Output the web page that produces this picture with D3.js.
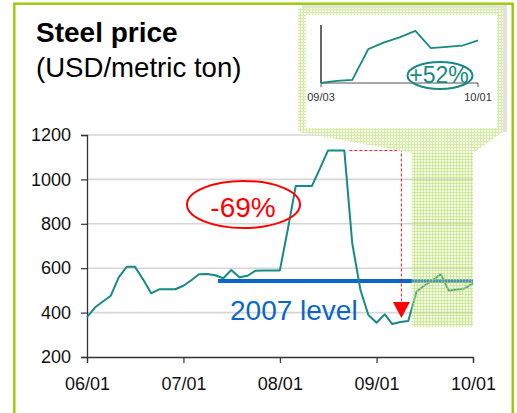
<!DOCTYPE html>
<html><head><meta charset="utf-8">
<script src="https://cdn.jsdelivr.net/npm/d3@7"></script>
<style>
html,body{margin:0;padding:0;background:#fff;}
svg{display:block;font-family:"Liberation Sans",Arial,sans-serif;}
</style></head>
<body><svg id="c" width="517" height="413"></svg>
<script>
// ---- data ----
const months = [
 "2006-01","2006-02","2006-03","2006-04","2006-05","2006-06","2006-07","2006-08","2006-09","2006-10","2006-11","2006-12",
 "2007-01","2007-02","2007-03","2007-04","2007-05","2007-06","2007-07","2007-08","2007-09","2007-10","2007-11","2007-12",
 "2008-01","2008-02","2008-03","2008-04","2008-05","2008-06","2008-07","2008-08","2008-09","2008-10","2008-11","2008-12",
 "2009-01","2009-02","2009-03","2009-04","2009-05","2009-06","2009-07","2009-08","2009-09","2009-10","2009-11","2009-12",
 "2010-01"];
const prices = [
 380,424,449,476,559,607,607,550,487,505,505,505,
 521,547,573,574,568,555,592,559,566,589,590,590,
 590,781,970,970,970,1050,1130,1130,1130,712,502,389,
 354,392,349,358,362,494,522,545,573,499,504,509,
 532];
const yTicks = [200,400,600,800,1000,1200];
const xTicks = ["2006-01","2007-01","2008-01","2009-01","2010-01"];
const insetStart = "2009-03";
const insetTicks = ["2009-03","2010-01"];
const level2007 = 542;
const levelStart = "2007-05-12";
const peakValue = 1130;
const peakDate = "2008-09-20";
const dropDate = "2009-04-05";
const arrowTop = 448, arrowTip = 376;
const dropLabel = "-69%";
const riseLabel = "+52%";
const levelLabel = "2007 level";
const highlightStart = "2009-05-14";
const highlightTop = 1119, highlightBottom = 335;

// ---- setup ----
const svg = d3.select("#c");
const parse = s => s.length===7 ? d3.timeParse("%Y-%m")(s) : d3.timeParse("%Y-%m-%d")(s);
const data = months.map((m,i)=>({d:parse(m), v:prices[i]}));
const x = d3.scaleTime().domain([parse("2006-01"), parse("2010-01")]).range([87,473]);
const y = d3.scaleLinear().domain([200,1200]).range([357,135]);
const teal = "#168a84", blue = "#0a66cc", red = "#ff0000";

// patterns
const defs = svg.append("defs");
const p1 = defs.append("pattern").attr("id","hs").attr("width",3).attr("height",3).attr("patternUnits","userSpaceOnUse");
p1.append("rect").attr("width",3).attr("height",3).attr("fill","#f3f9e2");
p1.append("rect").attr("width",3).attr("height",1).attr("fill","#d6ebab");
p1.append("rect").attr("width",1).attr("height",3).attr("fill","#d6ebab");
const p2 = defs.append("pattern").attr("id","ht").attr("width",3).attr("height",3).attr("patternUnits","userSpaceOnUse");
p2.append("rect").attr("width",3).attr("height",3).attr("fill","rgba(215,238,165,0.3)");
p2.append("rect").attr("width",3).attr("height",1).attr("fill","rgba(180,220,100,0.5)");
p2.append("rect").attr("width",1).attr("height",3).attr("fill","rgba(180,220,100,0.5)");

// frame
svg.append("rect").attr("x",14.3).attr("y",3.7).attr("width",498.4).attr("height",430)
  .attr("fill","none").attr("stroke","#99cc00").attr("stroke-width",2.4);

// title
svg.append("text").attr("x",36).attr("y",42).attr("font-size",28).attr("font-weight","bold").attr("fill","#000").text("Steel price");
svg.append("text").attr("x",36).attr("y",77).attr("font-size",27.6).attr("fill","#000").text("(USD/metric ton)");

// gridlines
svg.append("g").selectAll("line").data(yTicks.filter(t=>t>200)).join("line")
  .attr("x1",87).attr("x2",473).attr("y1",d=>y(d)).attr("y2",d=>y(d))
  .attr("stroke","#d6d6d6").attr("stroke-width",1.6);

// axes
const gy = svg.append("g").attr("transform","translate(87,0)")
  .call(d3.axisLeft(y).tickValues(yTicks).tickSize(6).tickPadding(10).tickFormat(d3.format("d")));
const gx = svg.append("g").attr("transform","translate(0,357)")
  .call(d3.axisBottom(x).tickValues(xTicks.map(parse)).tickSize(6).tickPadding(14).tickFormat(d3.timeFormat("%y/%m")));
[gy,gx].forEach(g=>{
  g.selectAll("text").attr("font-size",18).attr("fill","#111").attr("font-family","Liberation Sans, Arial, sans-serif");
  g.selectAll("line").attr("stroke","#333").attr("stroke-width",1.2);
  g.select(".domain").attr("stroke","#333").attr("stroke-width",1.3);
});

// 2007 level line
svg.append("line").attr("x1",x(parse(levelStart))).attr("x2",x(parse("2010-01")))
  .attr("y1",y(level2007)).attr("y2",y(level2007)).attr("stroke",blue).attr("stroke-width",4);

// price line
svg.append("path").datum(data).attr("fill","none").attr("stroke",teal).attr("stroke-width",2)
  .attr("stroke-linejoin","round")
  .attr("d",d3.line().x(d=>x(d.d)).y(d=>y(d.v)));

// level label
svg.append("text").attr("x",230).attr("y",320).attr("font-size",28).attr("fill",blue).text(levelLabel);

// red dashed guide
const xd = x(parse(dropDate));
svg.append("path").attr("fill","none").attr("stroke",red).attr("stroke-width",0.9).attr("stroke-dasharray","3,2")
  .attr("d",`M${x(parse(peakDate))},${y(peakValue)}H${xd}V${y(arrowTop)}`);
svg.append("path").attr("fill",red)
  .attr("d",`M${xd-8.5},${y(arrowTop)}L${xd+8.5},${y(arrowTop)}L${xd},${y(arrowTip)}Z`);

// red ellipse
svg.append("ellipse").attr("cx",243.5).attr("cy",204.5).attr("rx",56.5).attr("ry",23.5)
  .attr("fill","none").attr("stroke",red).attr("stroke-width",2);
svg.append("text").attr("x",243).attr("y",217).attr("text-anchor","middle").attr("font-size",28).attr("fill",red).text(dropLabel);

// highlight column + trapezoid
const hx0 = x(parse(highlightStart)), hx1 = x(parse("2010-01"));
svg.append("rect").attr("x",hx0).attr("y",y(highlightTop)).attr("width",hx1-hx0).attr("height",y(highlightBottom)-y(highlightTop))
  .attr("fill","url(#ht)");
// shadow of inset
svg.append("rect").attr("x",302).attr("y",5).attr("width",205).attr("height",127).attr("fill","#d4d4d4").attr("opacity",0.7);
svg.append("path").attr("fill","url(#hs)")
  .attr("d",`M298,8H503V132L${hx1},${y(highlightTop)}H${hx0}L298,132Z`);
svg.append("rect").attr("x",306).attr("y",15).attr("width",191).attr("height",113).attr("fill","#fff");

// inset chart
const insetData = data.filter(d=>d.d>=parse(insetStart));
const ix = d3.scaleTime().domain([parse(insetStart), parse("2010-01")]).range([321,478]);
const iy = d3.scaleLinear().domain([d3.min(insetData,d=>d.v),598]).range([83,25]);
svg.append("line").attr("x1",321).attr("x2",478).attr("y1",83).attr("y2",83).attr("stroke","#555").attr("stroke-width",1.2);
svg.append("g").selectAll("line").data(insetTicks).join("line")
  .attr("x1",d=>ix(parse(d))).attr("x2",d=>ix(parse(d))).attr("y1",83).attr("y2",87).attr("stroke","#555");
svg.append("g").selectAll("text").data(insetTicks).join("text")
  .attr("x",d=>ix(parse(d))).attr("y",101).attr("text-anchor","middle").attr("font-size",11).attr("fill","#333")
  .text(d=>d3.timeFormat("%y/%m")(parse(d)));
svg.append("line").attr("x1",321).attr("x2",321).attr("y1",25).attr("y2",83).attr("stroke","#000").attr("stroke-width",1.2);
svg.append("path").datum(insetData).attr("fill","none").attr("stroke",teal).attr("stroke-width",1.8)
  .attr("d",d3.line().x(d=>ix(d.d)).y(d=>iy(d.v)));
svg.append("text").attr("x",439).attr("y",83).attr("text-anchor","middle").attr("font-size",23).attr("fill",teal).text(riseLabel);
svg.append("ellipse").attr("cx",440).attr("cy",75.5).attr("rx",32.5).attr("ry",13.5)
  .attr("fill","none").attr("stroke",teal).attr("stroke-width",2);
</script></body></html>
